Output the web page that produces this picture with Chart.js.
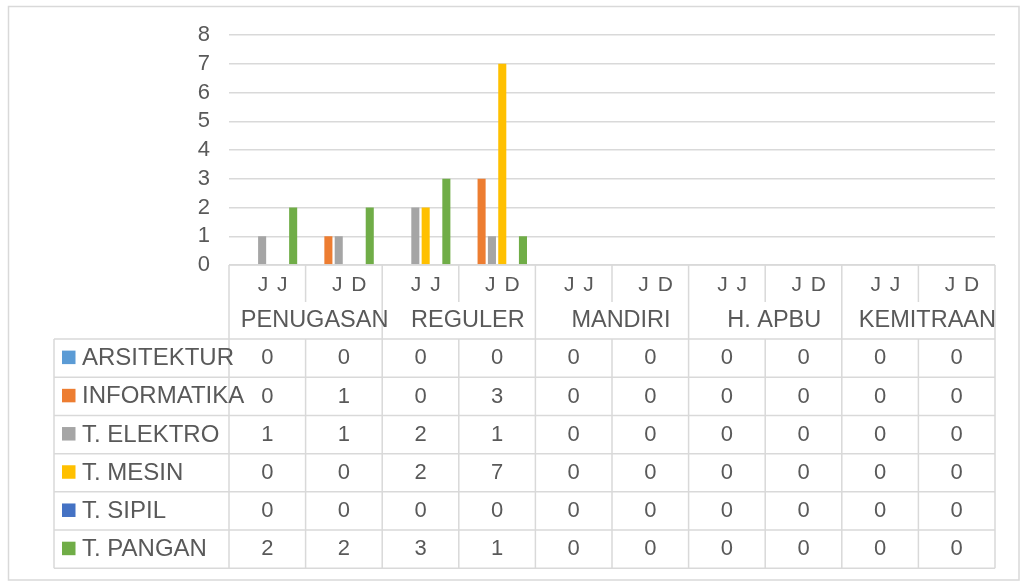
<!DOCTYPE html>
<html>
<head>
<meta charset="utf-8">
<script src="https://cdn.jsdelivr.net/npm/chart.js@4/dist/chart.umd.min.js"></script>
<style>
html,body{margin:0;padding:0;background:#fff;}
canvas{display:block;}
</style>
</head>
<body>
<canvas id="c" width="1026" height="585"></canvas>
<script>
const categories = ["J J","J D","J J","J D","J J","J D","J J","J D","J J","J D"];
const groups = ["PENUGASAN","REGULER","MANDIRI","H. APBU","KEMITRAAN"];
const yTicks = [0,1,2,3,4,5,6,7,8];
const seriesNames = ["ARSITEKTUR","INFORMATIKA","T. ELEKTRO","T. MESIN","T. SIPIL","T. PANGAN"];
const arsitektur = [0,0,0,0,0,0,0,0,0,0];
const informatika = [0,1,0,3,0,0,0,0,0,0];
const tElektro = [1,1,2,1,0,0,0,0,0,0];
const tMesin = [0,0,2,7,0,0,0,0,0,0];
const tSipil = [0,0,0,0,0,0,0,0,0,0];
const tPangan = [2,2,3,1,0,0,0,0,0,0];
const seriesColors = ["#5B9BD5","#ED7D31","#A5A5A5","#FFC000","#4472C4","#70AD47"];

const seriesValues = [arsitektur, informatika, tElektro, tMesin, tSipil, tPangan];
const FONT = "'Liberation Sans', Arial, sans-serif";
const TXT = "#595959";
const LINE = "#d9d9d9";

const tablePlugin = {
  id: 'dataTable',
  beforeDraw(chart) {
    const ctx = chart.ctx;
    ctx.save();
    ctx.fillStyle = '#fff';
    ctx.fillRect(0, 0, chart.width, chart.height);
    ctx.restore();
  },
  afterDraw(chart) {
    const ctx = chart.ctx;
    const xs = chart.scales.x;
    const area = chart.chartArea;
    const n = categories.length;
    const bound = i => i === 0 ? area.left : (i === n ? area.right : (xs.getPixelForValue(i - 1) + xs.getPixelForValue(i)) / 2);
    const top = area.bottom;
    const subBottom = 302;
    const grpBottom = 339;
    const rowH = (568.3 - grpBottom) / seriesNames.length;
    const tableBottom = grpBottom + rowH * seriesNames.length;
    const legendLeft = 54;

    ctx.save();
    ctx.strokeStyle = LINE;
    ctx.lineWidth = 1.5;
    // outer chart border
    ctx.strokeRect(8.5, 6.5, 1010.5, 573.5);

    ctx.beginPath();
    ctx.moveTo(area.left, top); ctx.lineTo(area.right, top);
    for (let r = 0; r <= seriesNames.length; r++) {
      const y = grpBottom + r * rowH;
      ctx.moveTo(legendLeft, y); ctx.lineTo(area.right, y);
    }
    ctx.moveTo(legendLeft, grpBottom); ctx.lineTo(legendLeft, tableBottom);
    for (let i = 0; i <= n; i++) {
      const x = bound(i);
      if (i % 2 === 0) {
        ctx.moveTo(x, top); ctx.lineTo(x, tableBottom);
      } else {
        ctx.moveTo(x, top); ctx.lineTo(x, subBottom);
        ctx.moveTo(x, grpBottom); ctx.lineTo(x, tableBottom);
      }
    }
    ctx.stroke();

    ctx.fillStyle = TXT;
    ctx.textBaseline = 'alphabetic';
    ctx.textAlign = 'center';
    // sub category labels
    ctx.font = '21px ' + FONT;
    ctx.letterSpacing = '1.5px';
    categories.forEach((c, i) => {
      ctx.fillText(c, xs.getPixelForValue(i) + 6, 291.2);
    });
    ctx.letterSpacing = '0px';
    // group labels
    ctx.font = '23.5px ' + FONT;
    groups.forEach((g, gi) => {
      const cx = (bound(gi * 2) + bound(gi * 2 + 2)) / 2;
      ctx.fillText(g, cx + 9, 326.6);
    });
    // data values
    ctx.font = '22px ' + FONT;
    seriesValues.forEach((vals, r) => {
      const cy = grpBottom + r * rowH + rowH / 2;
      vals.forEach((v, i) => {
        ctx.fillText(String(v), xs.getPixelForValue(i), cy + 6.3);
      });
    });
    // legend entries
    ctx.textAlign = 'left';
    ctx.font = '24px ' + FONT;
    seriesNames.forEach((name, r) => {
      const cy = grpBottom + r * rowH + rowH / 2;
      ctx.fillStyle = seriesColors[r];
      ctx.fillRect(62, cy - 7.5, 13.5, 13.5);
      ctx.fillStyle = TXT;
      ctx.fillText(name, 82, cy + 7);
    });
    ctx.restore();
  }
};

new Chart(document.getElementById('c'), {
  type: 'bar',
  data: {
    labels: categories,
    datasets: seriesNames.map((name, i) => ({
      label: name,
      data: seriesValues[i],
      backgroundColor: seriesColors[i],
      borderWidth: 0,
      categoryPercentage: 0.81,
      barPercentage: 0.78
    }))
  },
  options: {
    responsive: false,
    animation: false,
    devicePixelRatio: 1,
    layout: { padding: { left: 0, right: 31, top: 35, bottom: 320 } },
    plugins: { legend: { display: false }, tooltip: { enabled: false } },
    scales: {
      x: { display: false },
      y: {
        min: 0, max: 8,
        afterFit(scale) { scale.width = 229; },
        afterBuildTicks(scale) { scale.ticks = yTicks.map(v => ({ value: v })); },
        border: { display: false },
        grid: { color: LINE, lineWidth: 1.5, drawTicks: false },
        ticks: {
          autoSkip: false,
          padding: 19,
          color: TXT,
          font: { family: FONT, size: 22 }
        }
      }
    }
  },
  plugins: [tablePlugin]
});
</script>
</body>
</html>
